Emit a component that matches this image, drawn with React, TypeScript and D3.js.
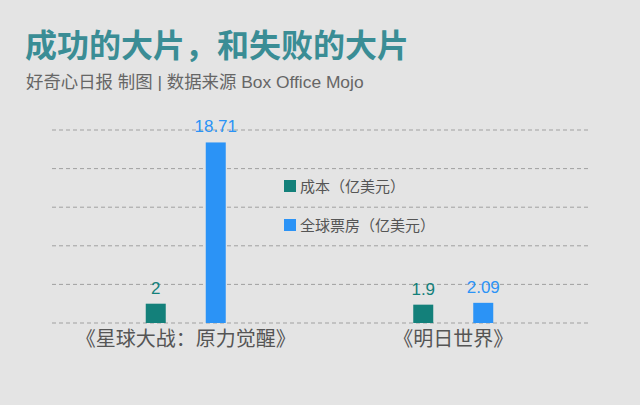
import * as d3 from "d3";

const movies = ["《星球大战：原力觉醒》", "《明日世界》"];
const seriesNames = ["成本（亿美元）", "全球票房（亿美元）"];
const cost = [2, 1.9];
const boxOffice = [18.71, 2.09];
const costLabels = ["2", "1.9"];
const boxOfficeLabels = ["18.71", "2.09"];
const gridTicks = [0, 4, 8, 12, 16, 20];

const W = 640;
const H = 405;
const colors = ["#13807a", "#2b93f6"];
const font = "'Liberation Sans', 'Noto Sans CJK SC', sans-serif";

export default function App() {
  const x0 = d3.scaleBand<string>().domain(movies).range([52, 587]).padding(0);
  const x1 = d3
    .scaleBand<string>()
    .domain(seriesNames)
    .range([-40, 40])
    .paddingInner(2 / 3)
    .paddingOuter(0);
  const y = d3.scaleLinear().domain([0, 20]).range([323, 130]);

  const values = [cost, boxOffice];
  const labels = [costLabels, boxOfficeLabels];

  return (
    <svg
      width={W}
      height={H}
      style={{ position: "absolute", left: 0, top: 0, display: "block" }}
    >
      <rect width={W} height={H} fill="#e4e4e4" />
      <text
        x={25}
        y={57}
        fontSize={32}
        fontWeight="bold"
        fill="#3a8d95"
        fontFamily={font}
      >
        成功的大片，和失败的大片
      </text>
      <text x={26} y={88} fontSize={17.4} fill="#666" fontFamily={font}>
        好奇心日报 制图 | 数据来源 Box Office Mojo
      </text>

      {gridTicks.map((t) => (
        <line
          key={t}
          x1={52}
          x2={588}
          y1={y(t)}
          y2={y(t)}
          stroke="#a0a0a0"
          strokeWidth={1}
          strokeDasharray="4,3"
        />
      ))}

      {movies.map((m, i) => {
        const cx = (x0(m) ?? 0) + x0.bandwidth() / 2;
        return (
          <g key={m}>
            {seriesNames.map((s, j) => {
              const bx = cx + (x1(s) ?? 0);
              const v = values[j][i];
              return (
                <g key={s}>
                  <rect
                    x={bx}
                    y={y(v)}
                    width={x1.bandwidth()}
                    height={y(0) - y(v)}
                    fill={colors[j]}
                  />
                  <text
                    x={bx + x1.bandwidth() / 2}
                    y={y(v) - 10}
                    textAnchor="middle"
                    fontSize={17}
                    fill={colors[j]}
                    fontFamily={font}
                  >
                    {labels[j][i]}
                  </text>
                </g>
              );
            })}
            <text
              x={cx}
              y={346}
              textAnchor="middle"
              fontSize={20}
              fill="#555"
              fontFamily={font}
            >
              {m}
            </text>
          </g>
        );
      })}

      {seriesNames.map((s, j) => (
        <g key={s} transform={`translate(284, ${180 + j * 39})`}>
          <rect width={12} height={12} fill={colors[j]} />
          <text x={16} y={11.5} fontSize={15} fill="#555" fontFamily={font}>
            {s}
          </text>
        </g>
      ))}
    </svg>
  );
}
